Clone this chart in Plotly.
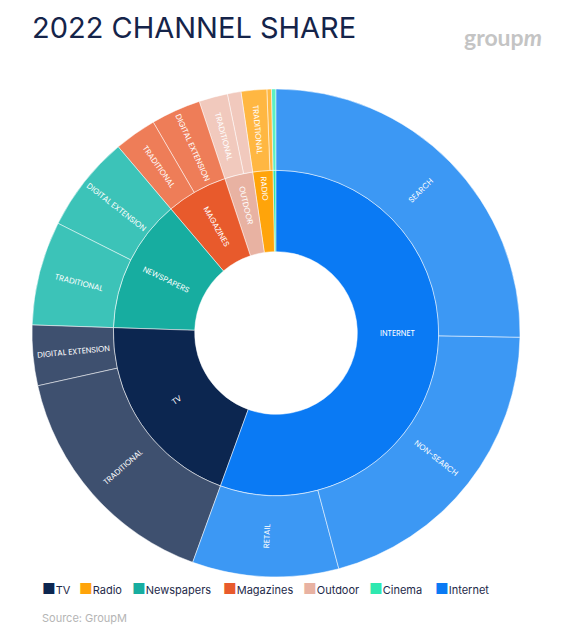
import plotly.graph_objects as go

channels = ["TV", "Radio", "Newspapers", "Magazines", "Outdoor", "Cinema", "Internet"]
channel_colors = ["#0c2650", "#ffa40a", "#17ada0", "#e85a2c", "#e8b2a2", "#2ee8b0", "#0a7af4"]
sub_colors = ["#3e506f", "#ffb742", "#3cc3b8", "#ee7d58", "#f1c9bd", "#5cf0c4", "#3c98f4"]
legend_x = [32, 69, 122, 213, 293, 359, 425]  # px (page has an 8px body margin)

# outer ring, per channel (tenths of a percent of total)
subs = {
    "TV": [("TRADITIONAL", 160), ("DIGITAL EXTENSION", 40)],
    "Newspapers": [("TRADITIONAL", 69), ("DIGITAL EXTENSION", 64)],
    "Magazines": [("TRADITIONAL", 28), ("DIGITAL EXTENSION", 33)],
    "Outdoor": [("TRADITIONAL", 19), ("", 9)],
    "Radio": [("TRADITIONAL", 17), ("", 3)],
    "Cinema": [("", 3)],
    "Internet": [("SEARCH", 253), ("NON-SEARCH", 206), ("RETAIL", 97)],
}
inner_text = {"TV": "TV", "Radio": "RADIO", "Newspapers": "NEWSPAPERS", "Magazines": "MAGAZINES",
              "Outdoor": "OUTDOOR", "Cinema": "", "Internet": "INTERNET"}

# sunburst runs counterclockwise, so reverse order to read clockwise from 12 o'clock
order = ["Cinema", "Radio", "Outdoor", "Magazines", "Newspapers", "TV", "Internet"]

grand = sum(v for ch in subs for _, v in subs[ch])
ids, labels, parents, values, colors, texts = ["root"], [""], [""], [grand], ["white"], [""]
for ch in order:
    ci = channels.index(ch)
    tot = sum(v for _, v in subs[ch])
    ids.append(ch); labels.append(ch); parents.append("root"); values.append(tot)
    colors.append(channel_colors[ci]); texts.append(inner_text[ch])
    for k, (name, v) in enumerate(reversed(subs[ch])):
        ids.append(f"{ch}-{name}-{k}"); labels.append(name or ch); parents.append(ch)
        values.append(v); colors.append(sub_colors[ci]); texts.append(name)

W, H = 564, 634
fig = go.Figure()
fig.add_trace(go.Sunburst(
    ids=ids, labels=labels, parents=parents, values=values, branchvalues="total",
    sort=False, rotation=90, text=texts, texttemplate="%{text}",
    insidetextorientation="radial", leaf=dict(opacity=1),
    marker=dict(colors=colors, line=dict(color="rgba(255,255,255,0.5)", width=1)),
    textfont=dict(family="Poppins, Inter, sans-serif", size=8, color="white"),
    hoverinfo="label",
    domain=dict(x=[24 / W, 512 / W], y=[1 - 570 / H, 1 - 80 / H]),
))

annotations = [
    dict(text="2022 CHANNEL SHARE", x=22 / W, y=1 - 19 / H, xref="paper", yref="paper",
         xanchor="left", yanchor="middle", showarrow=False,
         font=dict(family="Inter, sans-serif", size=29, color="#15244a")),
    dict(text="<b>group<i>m</i></b>", x=536 / W, y=1 - 29 / H, xref="paper", yref="paper",
         xanchor="right", yanchor="middle", showarrow=False,
         font=dict(family="Lato, sans-serif", size=23, color="#c4c4c4")),
    dict(text="Source: GroupM", x=32 / W, y=1 - 610 / H, xref="paper", yref="paper",
         xanchor="left", yanchor="middle", showarrow=False,
         font=dict(family="Inter, sans-serif", size=11, color="#b5b5b5")),
]
for ch, c, px in zip(channels, channel_colors, legend_x):
    annotations.append(dict(
        text=f"<span style='color:{c}; font-size:15px'>■</span>{ch}",
        x=px / W, y=1 - 580 / H, xref="paper", yref="paper",
        xanchor="left", yanchor="middle", showarrow=False,
        font=dict(family="Inter, sans-serif", size=11, color="#1e2a4a")))

fig.update_layout(
    width=W, height=H, paper_bgcolor="white", plot_bgcolor="white",
    margin=dict(l=0, r=0, t=0, b=0),
    annotations=annotations,
)

fig.write_html("out.html")
